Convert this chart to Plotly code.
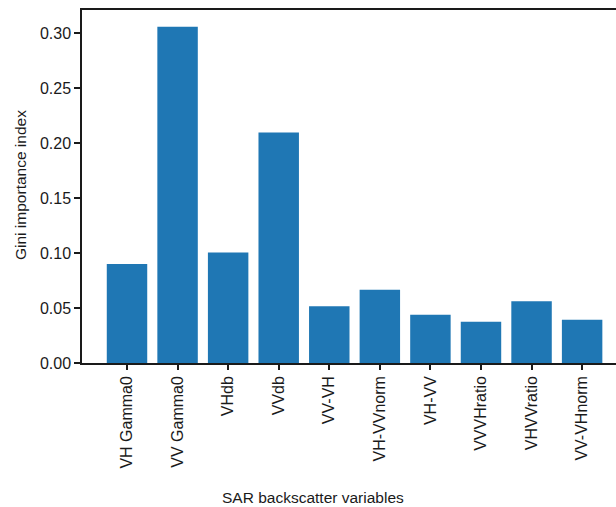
import plotly.graph_objects as go

# Gini importance of each SAR backscatter variable
variables = ["VH Gamma0", "VV Gamma0", "VHdb", "VVdb", "VV-VH",
             "VH-VVnorm", "VH-VV", "VVVHratio", "VHVVratio", "VV-VHnorm"]
importance = [0.090, 0.3057, 0.1005, 0.2095, 0.0517,
              0.0666, 0.0438, 0.0376, 0.0561, 0.0394]
y_ticks = [0.00, 0.05, 0.10, 0.15, 0.20, 0.25, 0.30]

FONT = "Liberation Sans, Arial, sans-serif"
INK = "#1a1a1a"

fig = go.Figure(
    go.Bar(
        x=list(range(len(variables))),
        y=importance,
        width=0.8,
        marker=dict(color="#1f77b4", line=dict(width=0)),
    )
)

fig.update_layout(
    width=616,
    height=507,
    margin=dict(l=82, r=0, t=10, b=144),
    plot_bgcolor="white",
    paper_bgcolor="white",
    showlegend=False,
    font=dict(family=FONT, size=16, color=INK),
)

fig.update_xaxes(
    range=[-0.89, 9.67],
    tickmode="array",
    tickvals=list(range(len(variables))),
    ticktext=variables,
    tickangle=-90,
    ticks="outside",
    ticklen=5,
    tickwidth=1.5,
    tickcolor=INK,
    showline=True,
    linewidth=1.5,
    linecolor=INK,
    mirror=True,
    showgrid=False,
    zeroline=False,
    tickfont=dict(family=FONT, size=16, color=INK),
)

fig.update_yaxes(
    range=[0, 0.3209],
    tickmode="array",
    tickvals=y_ticks,
    ticktext=[f"{v:.2f}" for v in y_ticks],
    ticks="outside",
    ticklen=6,
    tickwidth=1.5,
    tickcolor=INK,
    showline=True,
    linewidth=1.5,
    linecolor=INK,
    showgrid=False,
    zeroline=False,
    tickfont=dict(family=FONT, size=16, color=INK),
)

fig.add_annotation(
    text="SAR backscatter variables",
    xref="paper", yref="paper",
    x=(313 - 82) / (616 - 82), y=-(497 - 363) / (363 - 10),
    xanchor="center", yanchor="middle",
    showarrow=False,
    font=dict(family=FONT, size=15.5, color=INK),
)

fig.add_annotation(
    text="Gini importance index",
    xref="paper", yref="paper",
    x=-(82 - 20) / (616 - 82), y=(363 - 185) / (363 - 10),
    xanchor="center", yanchor="middle",
    textangle=-90,
    showarrow=False,
    font=dict(family=FONT, size=15.5, color=INK),
)

fig.write_html("out.html")
